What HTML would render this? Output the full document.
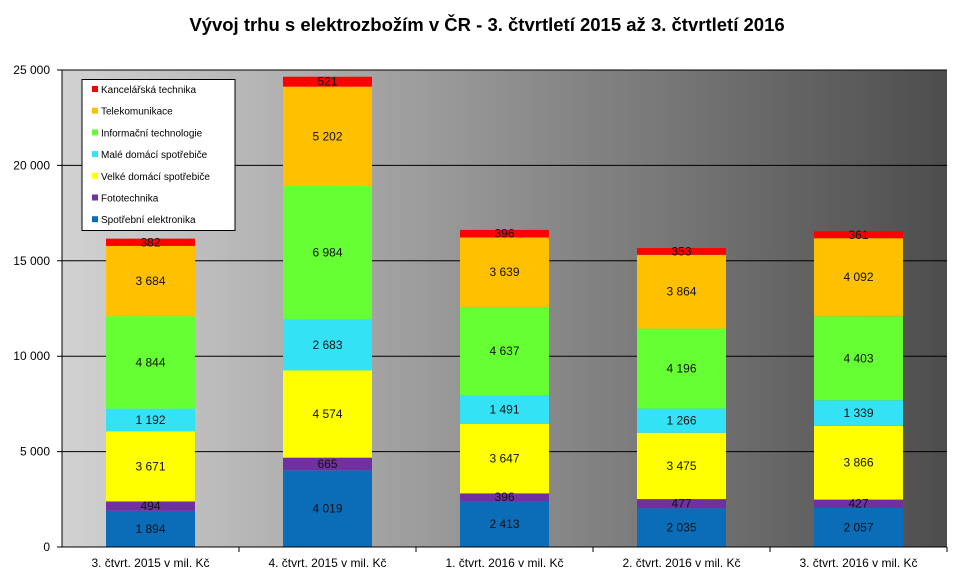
<!DOCTYPE html><html><head><meta charset="utf-8"><style>body{margin:0;background:#fff}svg{display:block;font-family:"Liberation Sans",Arial,sans-serif}</style></head><body>
<svg id="s" width="957" height="585" xmlns="http://www.w3.org/2000/svg">
<defs><linearGradient id="g" x1="0" x2="1" y1="0" y2="0"><stop offset="0" stop-color="#d2d2d2"/><stop offset="1" stop-color="#4d4d4d"/></linearGradient></defs>
<text x="487" y="31" text-anchor="middle" font-size="18.5" font-weight="bold">Vývoj trhu s elektrozbožím v ČR - 3. čtvrtletí 2015 až 3. čtvrtletí 2016</text>
<rect x="62" y="70" width="885" height="477" fill="url(#g)"/>
<g id="c"></g>
</svg>
<script>
var s=document.getElementById('c'),h='';
var y0=547,k=477/25000,L=62,W=885;
for(var i=1;i<=5;i++){var y=y0-i*5000*k;h+='<line x1="'+(L-5)+'" x2="'+(L+W)+'" y1="'+y+'" y2="'+y+'" stroke="#000" stroke-width="1"/>';}
for(var i=0;i<=5;i++){var y=y0-i*5000*k;h+='<text x="50" y="'+(y+4)+'" text-anchor="end" font-size="12">'+(i==0?'0':(i*5)+' 000')+'</text>';}
var d=[[1894,494,3671,1192,4844,3684,382],[4019,665,4574,2683,6984,5202,521],[2413,396,3647,1491,4637,3639,396],[2035,477,3475,1266,4196,3864,353],[2057,427,3866,1339,4403,4092,361]];
var col=['#0b6cb8','#7030a0','#ffff00','#33e3f5','#66ff33','#ffc000','#ff0000'];
var lab=['3. čtvrt. 2015 v mil. Kč','4. čtvrt. 2015 v mil. Kč','1. čtvrt. 2016 v mil. Kč','2. čtvrt. 2016 v mil. Kč','3. čtvrt. 2016 v mil. Kč'];
function f(n){return n>=1000?Math.floor(n/1000)+' '+String(n%1000).padStart(3,'0'):''+n}
for(var j=0;j<5;j++){var cx=L+W/5*(j+.5),x=cx-44.5,cum=0;
 for(var m=0;m<7;m++){var v=d[j][m],yt=y0-(cum+v)*k,hh=v*k;h+='<rect x="'+x+'" y="'+yt+'" width="89" height="'+hh+'" fill="'+col[m]+'"/>';cum+=v;}
 cum=0;for(var m=0;m<7;m++){var v=d[j][m],yc=y0-(cum+v/2)*k;h+='<text x="'+cx+'" y="'+(yc+4)+'" text-anchor="middle" font-size="12" fill="#111">'+f(v)+'</text>';cum+=v;}
 h+='<text x="'+cx+'" y="567" text-anchor="middle" font-size="12">'+lab[j]+'</text>';
 h+='<line x1="'+(L+W/5*(j+1))+'" x2="'+(L+W/5*(j+1))+'" y1="547" y2="552" stroke="#000"/>';}
h+='<line x1="'+L+'" x2="'+L+'" y1="70" y2="547" stroke="#000"/><line x1="'+(L-5)+'" x2="'+(L+W)+'" y1="547" y2="547" stroke="#000"/><line x1="'+(L-5)+'" x2="'+L+'" y1="70" y2="70" stroke="#000"/>';
h+='<rect x="82" y="79.5" width="153" height="151" fill="#fff" stroke="#000"/>';
var ln=['Kancelářská technika','Telekomunikace','Informační technologie','Malé domácí spotřebiče','Velké domácí spotřebiče','Fototechnika','Spotřební elektronika'];
for(var m=0;m<7;m++){var y=89+m*21.7;h+='<rect x="92" y="'+(y-3)+'" width="6" height="6" fill="'+col[6-m]+'"/><text x="101" y="'+(y+4)+'" font-size="10">'+ln[m]+'</text>';}
s.innerHTML=h;
</script></body></html>
